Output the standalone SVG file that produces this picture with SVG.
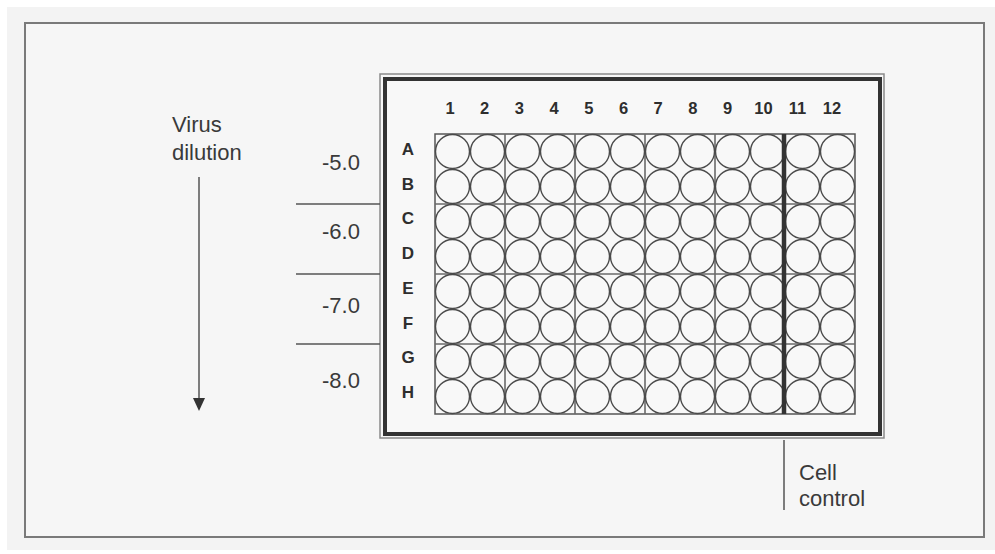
<svg xmlns="http://www.w3.org/2000/svg" xmlns:xlink="http://www.w3.org/1999/xlink" width="995" height="554" viewBox="0 0 995 554">
<style>
.lbl{font-family:"Liberation Sans",Arial,sans-serif;font-size:22px;fill:#3a3a3a}
.num{font-family:"Liberation Sans",Arial,sans-serif;font-size:16.5px;font-weight:bold;fill:#2e2e2e;text-anchor:middle}
.let{font-family:"Liberation Sans",Arial,sans-serif;font-size:17px;font-weight:bold;fill:#2e2e2e;text-anchor:middle}
.well{fill:#f8f8f8;stroke:#4a4a4a;stroke-width:1.4}
.ln{stroke:#555;stroke-width:1.5;fill:none}
.grid{stroke:#6a6a6a;stroke-width:1.6;fill:none}
</style>
<defs>
<g id="row">
<circle class="well" cx="452.5" cy="0" r="17"/><circle class="well" cx="487.5" cy="0" r="17"/><circle class="well" cx="522.5" cy="0" r="17"/><circle class="well" cx="557.5" cy="0" r="17"/><circle class="well" cx="592.5" cy="0" r="17"/><circle class="well" cx="627.5" cy="0" r="17"/><circle class="well" cx="662.5" cy="0" r="17"/><circle class="well" cx="697.5" cy="0" r="17"/><circle class="well" cx="732.5" cy="0" r="17"/><circle class="well" cx="767.5" cy="0" r="17"/><circle class="well" cx="802.5" cy="0" r="17"/><circle class="well" cx="837.5" cy="0" r="17"/>
</g>
</defs>
<rect x="0" y="0" width="995" height="554" fill="#ffffff"/>
<rect x="7" y="7" width="988" height="543" fill="#f3f3f3"/>
<g id="frame">
<rect x="25" y="23" width="959" height="514" fill="#f6f6f6" stroke="#7a7a7a" stroke-width="2"/>
</g>
<g id="plate">
<rect x="380" y="74" width="504" height="364" fill="#f7f7f7" stroke="#8a8a8a" stroke-width="1.5"/>
<rect x="385" y="79" width="495" height="355" fill="#f8f8f8" stroke="#333" stroke-width="4"/>
</g>
<g id="wells">
<rect x="435" y="134" width="420" height="280" fill="#f8f8f8" stroke="#555" stroke-width="1.5"/>
<path class="grid" d="M505,134V414M575,134V414M645,134V414M715,134V414M435,204H855M435,274H855M435,344H855"/>
<use xlink:href="#row" y="151.5"/>
<use xlink:href="#row" y="186.5"/>
<use xlink:href="#row" y="221.5"/>
<use xlink:href="#row" y="256.5"/>
<use xlink:href="#row" y="291.5"/>
<use xlink:href="#row" y="326.5"/>
<use xlink:href="#row" y="361.5"/>
<use xlink:href="#row" y="396.5"/>
<line x1="784" y1="134" x2="784" y2="414" stroke="#333" stroke-width="4.5"/>
</g>
<g id="column-numbers">
<text class="num" x="450" y="114">1</text>
<text class="num" x="484.7" y="114">2</text>
<text class="num" x="519.4" y="114">3</text>
<text class="num" x="554.1" y="114">4</text>
<text class="num" x="588.8" y="114">5</text>
<text class="num" x="623.5" y="114">6</text>
<text class="num" x="658.2" y="114">7</text>
<text class="num" x="692.9" y="114">8</text>
<text class="num" x="727.6" y="114">9</text>
<text class="num" x="763.5" y="114">10</text>
<text class="num" x="797.5" y="114">11</text>
<text class="num" x="832" y="114">12</text>
</g>
<g id="row-letters">
<text class="let" x="408" y="155">A</text>
<text class="let" x="408" y="189.7">B</text>
<text class="let" x="408" y="224.4">C</text>
<text class="let" x="408" y="259.1">D</text>
<text class="let" x="408" y="293.8">E</text>
<text class="let" x="408" y="328.5">F</text>
<text class="let" x="408" y="363.2">G</text>
<text class="let" x="408" y="397.9">H</text>
</g>
<g id="virus-dilution">
<text class="lbl" x="172" y="132">Virus</text>
<text class="lbl" x="172" y="160">dilution</text>
</g>
<g id="dilution-labels">
<text class="lbl" x="322" y="170">-5.0</text>
<text class="lbl" x="322" y="239">-6.0</text>
<text class="lbl" x="322" y="313">-7.0</text>
<text class="lbl" x="322" y="388">-8.0</text>
</g>
<g id="cell-control">
<text class="lbl" x="799" y="480">Cell</text>
<text class="lbl" x="799" y="506">control</text>
</g>
<g id="connectors">
<line class="ln" x1="199" y1="177" x2="199" y2="399"/>
<polygon points="193,398 205,398 199,411" fill="#333"/>
<line class="ln" x1="296" y1="204" x2="380" y2="204"/>
<line class="ln" x1="296" y1="274" x2="380" y2="274"/>
<line class="ln" x1="296" y1="344" x2="380" y2="344"/>
<line class="ln" x1="784" y1="440" x2="784" y2="510"/>
</g>
</svg>
